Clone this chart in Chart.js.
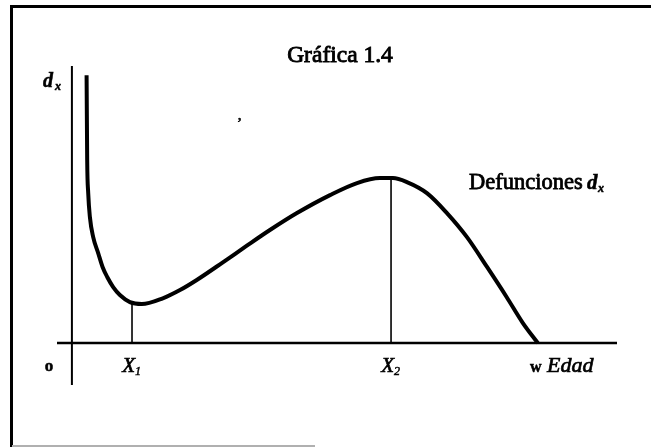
<!DOCTYPE html>
<html>
<head>
<meta charset="utf-8">
<script src="https://cdn.jsdelivr.net/npm/chart.js@4/dist/chart.umd.min.js"></script>
<style>
html,body{margin:0;padding:0;background:#fff;}
#wrap{position:relative;width:651px;height:447px;}
</style>
</head>
<body>
<div id="wrap"><canvas id="c" width="651" height="447"></canvas></div>
<script>
// Curve d_x (Edad, defunciones); w = 100, peak = 100
const edad = [3.15, 3.28, 3.5, 3.86, 4.57, 5.64, 6.58, 7.58, 8.86, 10.3, 12.45, 15.0, 19.5, 23.2, 26.8, 32.4, 37.55, 42.5, 48.3, 55.4, 61.2, 66.1, 68.9, 71.9, 76.2, 80.5, 84.8, 89.1, 93.3, 96.8, 100];
const defunciones = [162.4, 110.9, 90.9, 76.4, 64.2, 54.5, 46.1, 40, 33.9, 29.1, 24.8, 23.6, 27.1, 32.1, 38.2, 48.9, 59.0, 68.5, 78.8, 89.7, 97, 100, 100, 97.6, 90.9, 78.8, 64.2, 46.1, 27.9, 12.1, 0];
// Marked ages
const xMarks = [12.9, 68.5];
const xMarkValues = [24.6, 100];
const xMarkNames = ['X', 'X'];
const xMarkSubs = ['1', '2'];
// Axis extents
const xAxisRange = [-3.2, 117];
const yAxisRange = [-25.5, 168];

const curve = edad.map((x, i) => ({x: x, y: defunciones[i]}));
const markLines = xMarks.map((x, i) => [{x: x, y: 0}, {x: x, y: xMarkValues[i]}]);

function txt(ctx, s, x, y, font, align, w) {
  ctx.font = font;
  ctx.textAlign = align || 'left';
  ctx.lineWidth = w || 0.5;
  ctx.fillText(s, x, y);
  ctx.strokeText(s, x, y);
}

const textPlugin = {
  id: 'texts',
  beforeDraw(chart) {
    const ctx = chart.ctx;
    ctx.save();
    ctx.fillStyle = '#fff';
    ctx.fillRect(0, 0, chart.width, chart.height);
    ctx.strokeStyle = '#000';
    ctx.lineWidth = 3;
    ctx.beginPath();
    ctx.moveTo(11.5, 447); ctx.lineTo(11.5, 6.5); ctx.lineTo(651, 6.5);
    ctx.stroke();
    ctx.strokeStyle = '#b0b0b0';
    ctx.lineWidth = 2;
    ctx.beginPath();
    ctx.moveTo(12, 446); ctx.lineTo(315, 446);
    ctx.stroke();
    ctx.restore();
  },
  afterDraw(chart) {
    const ctx = chart.ctx;
    const xs = chart.scales.x;
    const serif = '"Liberation Serif", "DejaVu Serif", serif';
    ctx.save();
    ctx.fillStyle = '#000';
    ctx.strokeStyle = '#000';
    ctx.textBaseline = 'alphabetic';
    // title
    txt(ctx, 'Gráfica 1.4', 340, 62, '23.5px ' + serif, 'center', 0.9);
    // d_x axis label
    txt(ctx, 'd', 43, 87, 'bold italic 20px ' + serif);
    txt(ctx, 'x', 55, 90, 'bold italic 12px ' + serif);
    // origin
    txt(ctx, 'o', 49, 371, 'bold 17px ' + serif, 'center');
    // X1, X2
    xMarks.forEach((xv, i) => {
      const px = xs.getPixelForValue(xv);
      txt(ctx, xMarkNames[i], px + 3, 372, 'italic 21px ' + serif, 'right', 0.7);
      txt(ctx, xMarkSubs[i], px + 3, 375, 'italic 12px ' + serif);
    });
    // w Edad
    txt(ctx, 'w', 530, 372, 'bold 16px ' + serif);
    txt(ctx, 'Edad', 547, 372, 'italic 22px ' + serif, 'left', 0.7);
    // Defunciones d_x
    txt(ctx, 'Defunciones', 469, 189, '22.5px ' + serif, 'left', 0.8);
    txt(ctx, 'd', 587, 189, 'bold italic 21px ' + serif);
    txt(ctx, 'x', 598, 192, 'bold italic 12px ' + serif);
    // speck
    txt(ctx, ',', 238, 120, 'bold 13px ' + serif);
    ctx.restore();
  }
};

new Chart(document.getElementById('c'), {
  type: 'scatter',
  data: {
    datasets: [
      {data: [{x: xAxisRange[0], y: 0}, {x: xAxisRange[1], y: 0}], showLine: true, borderColor: '#000', borderWidth: 2.5, pointRadius: 0},
      {data: [{x: 0, y: yAxisRange[0]}, {x: 0, y: yAxisRange[1]}], showLine: true, borderColor: '#000', borderWidth: 2, pointRadius: 0},
      {data: markLines[0], showLine: true, borderColor: '#000', borderWidth: 1.6, pointRadius: 0},
      {data: markLines[1], showLine: true, borderColor: '#000', borderWidth: 1.6, pointRadius: 0},
      {data: curve, showLine: true, borderColor: '#000', borderWidth: 4, pointRadius: 0, cubicInterpolationMode: 'monotone', borderCapStyle: 'butt'}
    ]
  },
  options: {
    responsive: false,
    animation: false,
    layout: {padding: {left: 57, right: 34, top: 66, bottom: 62}},
    plugins: {legend: {display: false}, tooltip: {enabled: false}, title: {display: false}},
    scales: {
      x: {type: 'linear', min: xAxisRange[0], max: xAxisRange[1], display: false},
      y: {type: 'linear', min: yAxisRange[0], max: yAxisRange[1], display: false}
    }
  },
  plugins: [textPlugin]
});
</script>
</body>
</html>
